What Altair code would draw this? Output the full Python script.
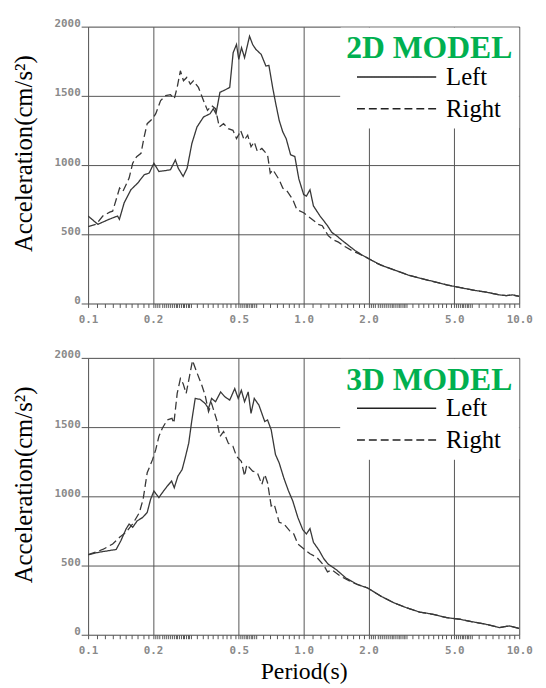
import altair as alt
import pandas as pd

# ---------------- data ----------------
series_names = ["Left", "Right"]
panel_titles = ["2D MODEL", "3D MODEL"]

# 2D model, Left (solid)
t2_left = [0.1, 0.111, 0.125, 0.137, 0.1397, 0.147, 0.158, 0.170, 0.182, 0.192, 0.202, 0.213, 0.228,
           0.241, 0.254, 0.262, 0.276, 0.288, 0.303, 0.320, 0.343, 0.368, 0.381, 0.392, 0.409, 0.431,
           0.454, 0.471, 0.488, 0.50, 0.515, 0.532, 0.561, 0.58, 0.60, 0.635, 0.668, 0.69, 0.718, 0.74,
           0.77, 0.80, 0.83, 0.87, 0.91, 0.95, 1.0, 1.03, 1.07, 1.11, 1.19, 1.25, 1.29, 1.35, 1.42,
           1.51, 1.62, 1.73, 1.86, 2.0, 2.29, 2.66, 3.06, 3.5, 4.04, 4.66, 5.35, 6.2, 7.1, 8.1, 8.7,
           9.3, 10.0]
a2_left = [632, 572, 608, 632, 608, 727, 822, 870, 930, 942, 1013, 954, 960,
           966, 1037, 977, 918, 977, 1156, 1275, 1347, 1371, 1407, 1371, 1526, 1542,
           1561, 1812, 1871, 1764, 1848, 1776, 1931, 1871, 1836, 1800, 1716, 1720, 1561, 1454,
           1323, 1240, 1190, 1074, 1062, 900, 787, 776, 822, 705, 633, 590, 562, 514, 490,
           455, 418, 383, 352, 324, 276, 240, 205, 181, 157, 133, 114, 95, 81, 62, 57,
           62, 52]

# 2D model, Right (dashed)
t2_right = [0.1, 0.109, 0.117, 0.126, 0.13, 0.135, 0.14, 0.145, 0.15, 0.155, 0.161, 0.168, 0.176,
            0.182, 0.188, 0.199, 0.206, 0.217, 0.229, 0.241, 0.251, 0.259, 0.268, 0.277, 0.287,
            0.298, 0.308, 0.325, 0.343, 0.358, 0.374, 0.39, 0.406, 0.425, 0.447, 0.47, 0.488, 0.50,
            0.51, 0.53, 0.55, 0.57, 0.59, 0.61, 0.64, 0.68, 0.70, 0.72, 0.77, 0.80, 0.84, 0.89, 0.93,
            1.0, 1.07, 1.17, 1.22, 1.30, 1.37, 1.45, 1.56, 1.67, 1.8, 1.93, 2.0, 2.2, 2.66, 3.06,
            3.5, 4.04, 4.66, 5.35, 6.2, 7.1, 8.1, 8.7, 9.3, 10.0]
a2_right = [555, 572, 632, 660, 667, 751, 834, 810, 858, 906, 1013, 1061, 1085,
            1204, 1299, 1335, 1371, 1466, 1502, 1509, 1478, 1561, 1681, 1609, 1633,
            1585, 1609, 1561, 1466, 1395, 1430, 1407, 1275, 1299, 1263, 1251, 1192, 1220,
            1251, 1180, 1216, 1132, 1168, 1097, 1120, 1073, 942, 966, 894, 834, 810, 751, 679,
            656, 620, 572, 562, 490, 460, 443, 410, 383, 360, 336, 325, 288, 240, 205,
            181, 157, 133, 114, 95, 81, 62, 57, 62, 52]

# 3D model, Left (solid)
t3_left = [0.1, 0.113, 0.135, 0.142, 0.15, 0.155, 0.161, 0.169, 0.179, 0.188, 0.195, 0.202, 0.213,
           0.221, 0.233, 0.244, 0.251, 0.261, 0.273, 0.282, 0.293, 0.303, 0.314, 0.331, 0.349, 0.362,
           0.374, 0.39, 0.412, 0.431, 0.454, 0.479, 0.497, 0.514, 0.532, 0.553, 0.57, 0.59, 0.62,
           0.66, 0.68, 0.707, 0.74, 0.77, 0.81, 0.85, 0.89, 0.94, 0.99, 1.03, 1.07, 1.11, 1.18, 1.24,
           1.30, 1.42, 1.57, 1.78, 1.98, 2.28, 2.62, 3.0, 3.45, 3.98, 4.6, 5.3, 6.1, 7.0, 8.1, 9.0,
           10.0]
a3_left = [578, 597, 616, 680, 764, 800, 776, 823, 847, 883, 979, 1038, 991,
           1026, 1074, 1110, 1062, 1146, 1193, 1277, 1384, 1551, 1707, 1700, 1671, 1635,
           1707, 1683, 1754, 1719, 1695, 1778, 1707, 1766, 1683, 1754, 1599, 1707, 1659,
           1540, 1552, 1480, 1302, 1241, 1130, 1040, 967, 847, 760, 728, 767, 668, 609, 549,
           510, 469, 410, 362, 338, 279, 231, 195, 164, 148, 124, 112, 93, 76, 52, 64,
           45]

# 3D model, Right (dashed)
t3_right = [0.1, 0.117, 0.13, 0.14, 0.15, 0.161, 0.173, 0.18, 0.188, 0.199, 0.206, 0.213, 0.221,
            0.233, 0.245, 0.25, 0.259, 0.268, 0.276, 0.285, 0.293, 0.305, 0.319, 0.337, 0.349, 0.362,
            0.374, 0.395, 0.409, 0.425, 0.447, 0.47, 0.488, 0.514, 0.532, 0.545, 0.58, 0.61, 0.64,
            0.66, 0.68, 0.707, 0.73, 0.77, 0.81, 0.86, 0.9, 0.94, 1.0, 1.07, 1.15, 1.24, 1.29, 1.35,
            1.49, 1.7, 1.98, 2.28, 2.62, 3.0, 3.45, 3.98, 4.6, 5.3, 6.1, 7.0, 8.1, 9.0, 10.0]
a3_right = [578, 616, 656, 704, 740, 800, 883, 979, 1170, 1265, 1337, 1432, 1492,
            1552, 1563, 1528, 1743, 1850, 1814, 1743, 1838, 1981, 1898, 1802, 1731, 1611,
            1671, 1552, 1432, 1468, 1384, 1361, 1289, 1253, 1146, 1229, 1182, 1170, 1086,
            1158, 1098, 931, 943, 812, 800, 752, 728, 656, 621, 585, 560, 501, 454, 469,
            421, 374, 338, 279, 231, 195, 164, 148, 124, 112, 93, 76, 52, 64, 45]

major_ticks = [0.1, 0.2, 0.5, 1.0, 2.0, 5.0, 10.0]
y_ticks = [0, 500, 1000, 1500, 2000]

# minor tick pattern within one decade (multiplied by 0.1 and 1)
decade_pattern = ([1.0 + 0.1 * i for i in range(1, 10)] +
                  [2.0 + 0.05 * i for i in range(0, 21)] +
                  [3.0 + 0.2 * i for i in range(1, 10)] +
                  [5.0 + 0.1 * i for i in range(1, 10)] +
                  [6.0 + 0.5 * i for i in range(0, 8)])
minor_ticks = sorted(set(round(v * d, 4) for d in (0.1, 1.0) for v in decade_pattern))
all_ticks = sorted(set(minor_ticks + major_ticks))

# ---------------- chart ----------------
major_expr = "indexof([0.1,0.2,0.5,1,2,5,10], datum.value) >= 0"

line_color = "#383838"
grid_color = "#555555"
tick_font = "DejaVu Sans Mono"
serif = "Liberation Serif"
# legend line sample: a long horizontal stroke drawn to the right of a small symbol cell
legend_line_path = "M-1.07,0L4.27,0"


def make_df(t_left, a_left, t_right, a_right):
    rows = []
    for t, a in zip(t_left, a_left):
        rows.append({"period": t, "accel": a, "series": series_names[0]})
    for t, a in zip(t_right, a_right):
        rows.append({"period": t, "accel": a, "series": series_names[1]})
    return pd.DataFrame(rows)


def panel(df, title, show_xtitle):
    x_axis = alt.Axis(
        values=all_ticks,
        labelExpr=major_expr + " ? format(datum.value, '.1f') : ''",
        labelOverlap=False,
        labelFlush=False,
        labelBound=False,
        labelFont=tick_font,
        labelFontSize=11,
        labelFontWeight="bold",
        labelColor="#8a8a8a",
        labelPadding=6,
        tickSize=4,
        tickColor=grid_color,
        grid=True,
        gridColor=grid_color,
        gridWidth=1,
        gridOpacity={"condition": {"test": major_expr, "value": 1}, "value": 0},
        domain=False,
        titleFont=serif,
        titleFontSize=24,
        titleFontWeight="normal",
        titleColor="black",
        titlePadding=4,
    )
    y_axis = alt.Axis(
        values=y_ticks,
        format="d",
        labelFont=tick_font,
        labelFontSize=11,
        labelFontWeight="bold",
        labelColor="#8a8a8a",
        labelBaseline="alphabetic",
        labelPadding=1,
        tickSize=7,
        tickColor=grid_color,
        grid=True,
        gridColor=grid_color,
        gridWidth=1,
        domain=False,
        title="Acceleration(cm/s²)",
        titleFont=serif,
        titleFontSize=25,
        titleFontWeight="normal",
        titleColor="black",
        titlePadding=18,
        titleY=128,
    )
    legend = alt.Legend(
        title=title,
        orient="top-right",
        offset=1,
        padding=6,
        fillColor="white",
        strokeColor="white",
        titleColor="#00B050",
        titleFont=serif,
        titleFontSize=32,
        titleFontWeight="bold",
        titleAnchor="middle",
        titlePadding=-4,
        titleLimit=400,
        labelFont=serif,
        labelFontSize=25,
        labelColor="black",
        labelLimit=300,
        labelOffset=58,
        symbolType=legend_line_path,
        symbolSize=900,
        symbolStrokeWidth=1.5,
        symbolStrokeColor="#222222",
        rowPadding=3,
    )
    x_kwargs = dict(
        scale=alt.Scale(type="log", domain=[0.1, 10], nice=False),
        axis=x_axis,
    )
    if show_xtitle:
        x_kwargs["title"] = "Period(s)"
    else:
        x_kwargs["title"] = None
    return alt.Chart(df).mark_line(
        color=line_color, strokeWidth=1.3, clip=True
    ).encode(
        x=alt.X("period:Q", **x_kwargs),
        y=alt.Y("accel:Q", scale=alt.Scale(domain=[0, 2000], nice=False), axis=y_axis),
        strokeDash=alt.StrokeDash(
            "series:N",
            scale=alt.Scale(domain=series_names, range=[[1, 0], [8, 4]]),
            legend=legend,
        ),
        detail="series:N",
    ).properties(width=436, height=280)


top = panel(make_df(t2_left, a2_left, t2_right, a2_right), panel_titles[0], False)
bottom = panel(make_df(t3_left, a3_left, t3_right, a3_right), panel_titles[1], True)

chart = alt.vconcat(top, bottom, spacing=23).resolve_scale(
    strokeDash="independent"
).resolve_legend(
    strokeDash="independent"
).properties(
    padding={"left": 3, "top": 5, "right": 5, "bottom": 0}
).configure_view(
    stroke=grid_color, strokeWidth=1
).configure(
    background="white"
)

chart.save("out.html", embed_options={"renderer": "svg", "actions": False})
